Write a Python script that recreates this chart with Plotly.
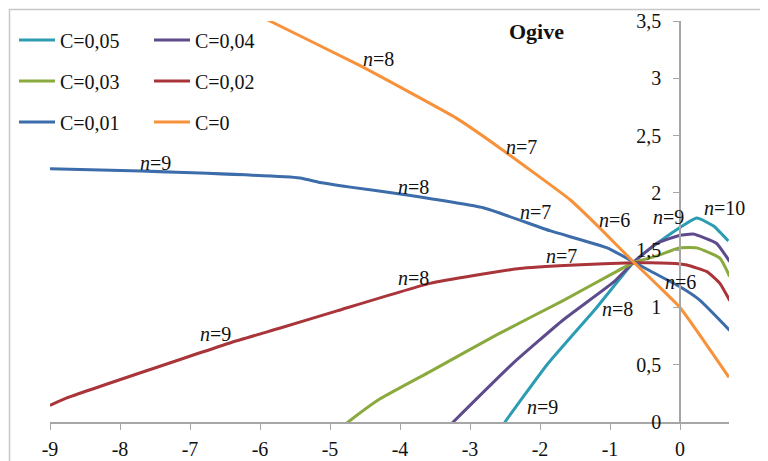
import plotly.graph_objects as go

# ---- data ----
series_names = ["C=0,05", "C=0,04", "C=0,03", "C=0,02", "C=0,01", "C=0"]

teal_x = [-2.6, -2.5, -1.9, -1.19, -0.67, -0.52, -0.19, 0.24, 0.48, 0.69]
teal_y = [-0.09, 0.0, 0.50, 1.00, 1.39, 1.47, 1.62, 1.78, 1.71, 1.58]

purple_x = [-3.37, -3.24, -2.39, -1.67, -0.95, -0.67, -0.33, 0.0, 0.19, 0.52, 0.71]
purple_y = [-0.08, 0.0, 0.51, 0.89, 1.22, 1.39, 1.56, 1.63, 1.64, 1.56, 1.40]

green_x = [-4.9, -4.74, -4.29, -3.57, -2.62, -1.67, -0.95, -0.67, -0.33, 0.0, 0.24, 0.57, 0.71]
green_y = [-0.08, 0.0, 0.20, 0.44, 0.76, 1.06, 1.30, 1.39, 1.45, 1.52, 1.52, 1.43, 1.27]

red_x = [-9.0, -8.76, -6.43, -5.71, -4.9, -3.57, -2.29, -1.5, -0.67, -0.43, 0.0, 0.1, 0.39, 0.57, 0.71]
red_y = [0.145, 0.21, 0.69, 0.82, 0.97, 1.21, 1.34, 1.37, 1.39, 1.39, 1.38, 1.37, 1.31, 1.21, 1.06]

blue_x = [-9.0, -7.7, -5.43, -5.14, -4.71, -4.0, -2.81, -1.86, -1.04, -0.67, -0.43, 0.0, 0.29, 0.71]
blue_y = [2.21, 2.19, 2.13, 2.09, 2.05, 1.99, 1.87, 1.67, 1.52, 1.40, 1.32, 1.18, 1.06, 0.80]

orange_x = [-6.3, -5.86, -4.57, -3.19, -2.57, -1.57, -1.14, -0.67, -0.33, 0.0, 0.7]
orange_y = [3.64, 3.50, 3.11, 2.65, 2.39, 1.94, 1.69, 1.40, 1.20, 1.00, 0.39]

x_tick_vals = [-9, -8, -7, -6, -5, -4, -3, -2, -1, 0]
x_tick_text = ["-9", "-8", "-7", "-6", "-5", "-4", "-3", "-2", "-1", "0"]
y_tick_vals = [0, 0.5, 1, 1.5, 2, 2.5, 3, 3.5]
y_tick_text = ["0", "0,5", "1", "1,5", "2", "2,5", "3", "3,5"]

label_texts = ["n=8", "n=7", "n=6", "n=9", "n=8", "n=7", "n=9", "n=8", "n=7",
               "n=8", "n=9", "n=9", "n=10", "n=6", "n=8", "n=5"]
label_x = [-4.31, -2.26, -0.93, -7.5, -3.81, -2.07, -6.64, -3.81, -1.69,
           -0.89, -1.96, -0.17, 0.64, 0.0, 0.83, 0.86]
label_y = [3.17, 2.40, 1.76, 2.26, 2.05, 1.83, 0.77, 1.26, 1.45,
           0.99, 0.13, 1.79, 1.87, 1.22, 1.14, 0.65]

# ---- styling ----
colors = ["#2C9CB2", "#5E4B8D", "#8AAA3E", "#A93439", "#3D6CAB", "#F7913A"]
FONT = "Liberation Serif"
TXT = "#111111"
X_MIN, X_MAX = -9.0, 0.7

xs = [teal_x, purple_x, green_x, red_x, blue_x, orange_x]
ys = [teal_y, purple_y, green_y, red_y, blue_y, orange_y]
legend_ids = ["legend", "legend", "legend2", "legend2", "legend3", "legend3"]

# page has an 8px body margin: figure covers page pixels 8..768 / 8..461
OFF = 8
W, H = 768 - OFF, 461 - OFF
ML, MT = 50 - OFF, 21 - OFF
pw, ph = 679, 401
MR, MB = W - ML - pw, H - MT - ph


def px_to_paper_x(px):
    return (px - OFF - ML) / pw


def px_to_paper_y(py):
    return (H - MB - (py - OFF)) / ph


def cx(px):
    return (px - OFF) / W


def cy(py):
    return 1 - (py - OFF) / H


fig = go.Figure()
for name, x, y, c, lg in zip(series_names, xs, ys, colors, legend_ids):
    fig.add_trace(go.Scatter(
        x=x, y=y, name=name, mode="lines",
        line=dict(color=c, width=3, shape="spline", smoothing=0.4),
        legend=lg,
    ))


def fmt(t):
    return "<i>n</i>" + t[1:]


annotations = []
for t, lx, ly in zip(label_texts, label_x, label_y):
    annotations.append(dict(x=lx, y=ly, xref="x", yref="y", text=fmt(t),
                            xanchor="center", yanchor="middle",
                            showarrow=False, font=dict(family=FONT, size=20, color=TXT)))
annotations.append(dict(x=0.757, y=1.63, xref="x", yref="y", text=fmt("n=11"),
                        xanchor="left", yanchor="middle", showarrow=False,
                        font=dict(family=FONT, size=20, color=TXT)))
annotations.append(dict(x=px_to_paper_x(536), y=px_to_paper_y(31), xref="paper", yref="paper",
                        text="<b>Ogive</b>", showarrow=False,
                        xanchor="center", yanchor="middle",
                        font=dict(family=FONT, size=22, color=TXT)))

legend_common = dict(orientation="h", font=dict(family=FONT, size=20, color=TXT),
                     bgcolor="rgba(0,0,0,0)", entrywidth=84, entrywidthmode="pixels",
                     itemwidth=36, xanchor="left", yanchor="middle",
                     xref="container", yref="container",
                     tracegroupgap=0, itemclick=False)

LEG_X = 14
fig.update_layout(
    width=W, height=H,
    margin=dict(l=ML, r=MR, t=MT, b=MB, autoexpand=False),
    paper_bgcolor="white", plot_bgcolor="white",
    separators=",.",
    font=dict(family=FONT, size=20, color=TXT),
    showlegend=True,
    legend=dict(legend_common, x=cx(LEG_X), y=cy(40)),
    legend2=dict(legend_common, x=cx(LEG_X), y=cy(81)),
    legend3=dict(legend_common, x=cx(LEG_X), y=cy(122)),
    annotations=annotations,
    xaxis=dict(range=[X_MIN, X_MAX], tickvals=x_tick_vals, ticktext=x_tick_text,
               showgrid=False, zeroline=False, showline=True, linecolor="#A6A6A6",
               linewidth=1.5, ticks="outside", ticklen=6, tickcolor="#A6A6A6",
               automargin=False, ticklabelstandoff=2,
               tickfont=dict(family=FONT, size=20, color=TXT)),
    yaxis=dict(range=[0, 3.5], tickvals=y_tick_vals, ticktext=y_tick_text,
               anchor="free", position=(0 - X_MIN) / (X_MAX - X_MIN),
               showgrid=False, zeroline=False, showline=True, linecolor="#A6A6A6",
               linewidth=1.5, ticks="outside", ticklen=6, tickcolor="#A6A6A6",
               automargin=False, ticklabelstandoff=8,
               tickfont=dict(family=FONT, size=20, color=TXT)),
    shapes=[dict(type="rect", xref="paper", yref="paper",
                 x0=px_to_paper_x(9.5), x1=px_to_paper_x(790),
                 y0=px_to_paper_y(480), y1=px_to_paper_y(9.5),
                 line=dict(color="#C8C8C8", width=1.5), fillcolor="rgba(0,0,0,0)",
                 layer="above")],
)

fig.write_html("out.html")
